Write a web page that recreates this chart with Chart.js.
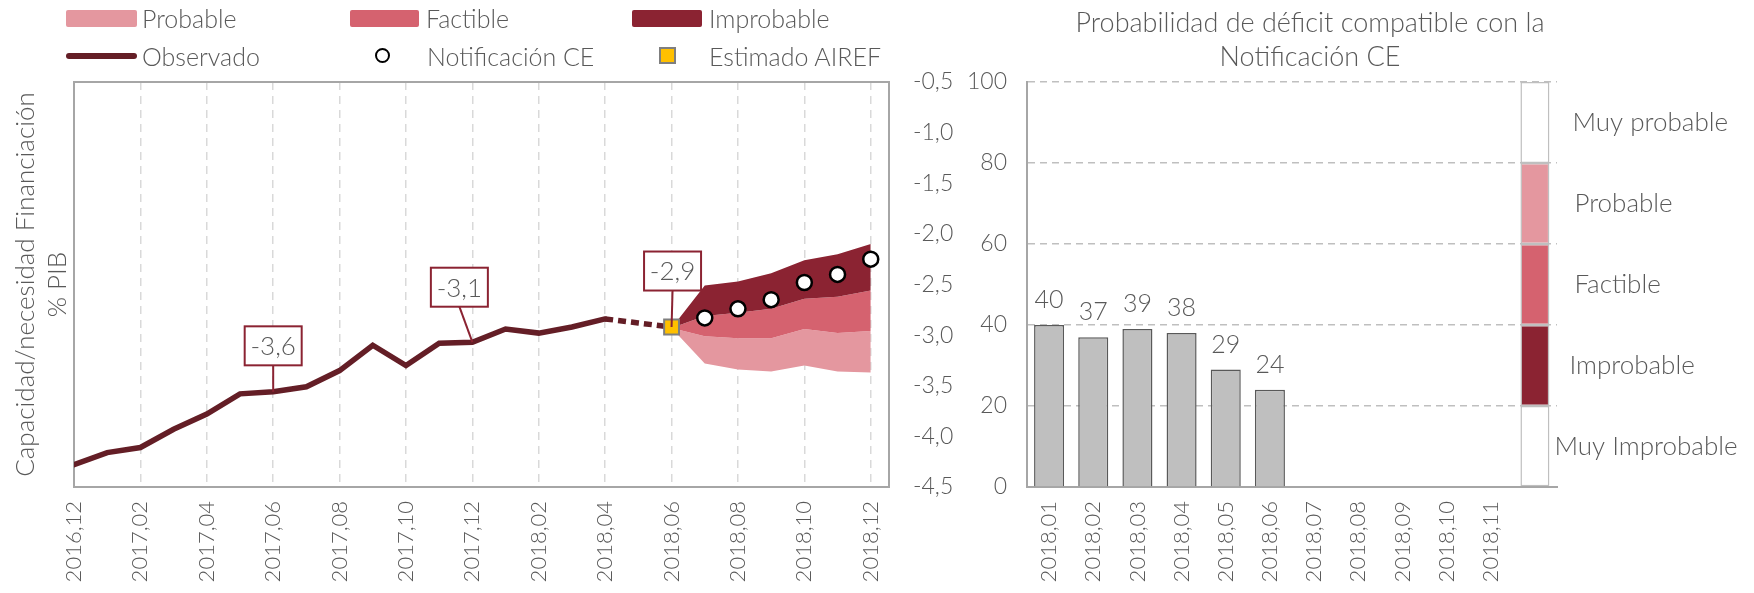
<!DOCTYPE html>
<html>
<head>
<meta charset="utf-8">
<script src="https://cdn.jsdelivr.net/npm/chart.js@4.4.1/dist/chart.umd.min.js"></script>
<style>
  body { margin: 0; background: #fff; width: 1754px; height: 593px; overflow: hidden; position: relative; font-family: Lato, sans-serif; font-weight: 300; color: #595959; }
  #leftChart { position: absolute; left: 0; top: 0; }
  #rightChart { position: absolute; left: 965px; top: 0; }
  .lg { position: absolute; font-size: 25px; line-height: 30px; white-space: nowrap; }
  .sw { position: absolute; }
</style>
</head>
<body>
<canvas id="leftChart" width="965" height="593"></canvas>
<canvas id="rightChart" width="789" height="593"></canvas>

<!-- legend -->
<div class="sw" style="left:66px;top:10px;width:71px;height:17px;background:#E4979F;border-radius:2px"></div>
<div class="lg" style="left:142px;top:3px">Probable</div>
<div class="sw" style="left:350px;top:10px;width:69px;height:17px;background:#D5626F;border-radius:2px"></div>
<div class="lg" style="left:426px;top:3px">Factible</div>
<div class="sw" style="left:632px;top:10px;width:70px;height:17px;background:#8B2332;border-radius:2px"></div>
<div class="lg" style="left:709px;top:3px">Improbable</div>
<div class="sw" style="left:66px;top:53px;width:71px;height:6px;background:#641E26;border-radius:3px"></div>
<div class="lg" style="left:142px;top:41px">Observado</div>
<div class="sw" style="left:375px;top:48px;width:11px;height:11px;border:2.5px solid #000;border-radius:50%;background:#fff"></div>
<div class="lg" style="left:427px;top:41px">Notificación CE</div>
<div class="sw" style="left:659px;top:47px;width:13px;height:13px;border:2px solid #7F7F7F;background:#FFC000"></div>
<div class="lg" style="left:709px;top:41px">Estimado AIREF</div>

<script>
// ---- data: left chart (month index 0 = 2016,12)
const months = ['2016,12', '2017,01', '2017,02', '2017,03', '2017,04', '2017,05', '2017,06',
  '2017,07', '2017,08', '2017,09', '2017,10', '2017,11', '2017,12', '2018,01', '2018,02',
  '2018,03', '2018,04', '2018,05', '2018,06', '2018,07', '2018,08', '2018,09', '2018,10',
  '2018,11', '2018,12'];
const observado = [-4.28, -4.16, -4.11, -3.93, -3.78, -3.58, -3.56, -3.51, -3.35, -3.10,
  -3.30, -3.08, -3.07, -2.94, -2.98, -2.92, -2.84];           // 2016,12 .. 2018,04
const enlace = [-2.84, -2.88, -2.92];                         // 2018,04 .. 2018,06 (dashed)
const estimadoAiref = [-2.92];                                // 2018,06
const notificacionCE = [-2.83, -2.74, -2.65, -2.48, -2.40, -2.25]; // 2018,07 .. 2018,12
// fan bands 2018,06 .. 2018,12
const improbableTop = [-2.93, -2.51, -2.47, -2.39, -2.26, -2.20, -2.10];
const factibleTop = [-2.93, -2.81, -2.78, -2.74, -2.64, -2.62, -2.56];
const probableTop = [-2.93, -3.01, -3.03, -3.03, -2.94, -2.98, -2.96];
const probableBottom = [-2.93, -3.28, -3.34, -3.36, -3.30, -3.36, -3.37];

// ---- data: right chart
const barMonths = ['2018,01', '2018,02', '2018,03', '2018,04', '2018,05', '2018,06',
  '2018,07', '2018,08', '2018,09', '2018,10', '2018,11', ''];
const probabilidad = [40, 37, 39, 38, 29, 24];
const gaugeBands = ['Muy Improbable', 'Improbable', 'Factible', 'Probable', 'Muy probable'];
const gaugeSize = [20, 20, 20, 20, 20];

const GRAY = '#595959';
const FONT = 'Lato, sans-serif';
const fmt = (v) => v.toFixed(1).replace('.', ',');
const pts = (start, arr) => arr.map((v, k) => ({ x: start + k, y: v }));

// frame + callout boxes on the left chart
const leftDeco = {
  id: 'leftDeco',
  beforeDatasetsDraw(chart) {
    const { ctx, chartArea: a } = chart;
    ctx.save();
    ctx.strokeStyle = '#A6A6A6';
    ctx.lineWidth = 2;
    ctx.strokeRect(a.left, a.top, a.right - a.left, a.bottom - a.top);
    ctx.restore();
  },
  afterDatasetsDraw(chart) {
    const { ctx, scales } = chart;
    const callouts = [
      { i: 6, v: observado[6], dx: 0, dy: -46 },
      { i: 12, v: observado[12], dx: -13, dy: -55 },
      { i: 18, v: estimadoAiref[0], dx: 1, dy: -56 },
    ];
    ctx.save();
    callouts.forEach((c) => {
      const px = scales.x.getPixelForValue(c.i);
      const py = scales.y.getPixelForValue(c.v);
      const bx = px + c.dx, by = py + c.dy;
      const w = 57, h = 39;
      ctx.strokeStyle = '#8B2332';
      ctx.lineWidth = 2;
      ctx.beginPath();
      ctx.moveTo(bx, by + h / 2);
      ctx.lineTo(px, py);
      ctx.stroke();
      ctx.fillStyle = '#fff';
      ctx.fillRect(bx - w / 2, by - h / 2, w, h);
      ctx.strokeRect(bx - w / 2, by - h / 2, w, h);
      ctx.fillStyle = GRAY;
      ctx.font = '300 26px ' + FONT;
      ctx.textAlign = 'center';
      ctx.textBaseline = 'middle';
      ctx.fillText(fmt(c.v), bx, by + 1);
    });
    ctx.restore();
  },
};

new Chart(document.getElementById('leftChart'), {
  type: 'line',
  data: {
    datasets: [
      {
        label: 'Notificación CE',
        data: pts(19, notificacionCE),
        showLine: false,
        pointRadius: 7.5,
        pointBackgroundColor: '#fff',
        pointBorderColor: '#000',
        pointBorderWidth: 2.5,
      },
      {
        label: 'Estimado AIREF',
        data: pts(18, estimadoAiref),
        showLine: false,
        pointStyle: 'rect',
        pointRadius: 10.5,
        pointBackgroundColor: '#FFC000',
        pointBorderColor: '#7F7F7F',
        pointBorderWidth: 2,
      },
      {
        label: 'Observado',
        data: pts(0, observado),
        borderColor: '#641E26',
        borderWidth: 5.5,
        pointRadius: 0,
        borderCapStyle: 'round',
      },
      {
        label: 'enlace',
        data: pts(16, enlace),
        borderColor: '#641E26',
        borderWidth: 5.5,
        borderDash: [8, 5],
        pointRadius: 0,
      },
      {
        label: 'Improbable',
        data: pts(18, improbableTop),
        borderWidth: 0,
        pointRadius: 0,
        fill: '+1',
        backgroundColor: '#8B2332',
      },
      {
        label: 'Factible',
        data: pts(18, factibleTop),
        borderWidth: 0,
        pointRadius: 0,
        fill: '+1',
        backgroundColor: '#D5626F',
      },
      {
        label: 'Probable',
        data: pts(18, probableTop),
        borderWidth: 0,
        pointRadius: 0,
        fill: '+1',
        backgroundColor: '#E4979F',
      },
      {
        label: 'fondo',
        data: pts(18, probableBottom),
        borderWidth: 0,
        pointRadius: 0,
        fill: false,
      },
    ],
  },
  options: {
    responsive: false,
    animation: false,
    layout: { padding: { top: 82, left: 0, right: 0, bottom: 0 } },
    plugins: { legend: { display: false }, tooltip: { enabled: false } },
    scales: {
      x: {
        type: 'linear',
        min: 0,
        max: 24.55,
        afterFit: (s) => { s.height = 106; },
        grid: { color: '#D9D9D9', lineWidth: 1.5, drawTicks: false },
        border: { display: false, dash: [8, 6] },
        ticks: {
          stepSize: 2,
          includeBounds: false,
          minRotation: 90,
          maxRotation: 90,
          padding: 14,
          color: GRAY,
          font: { family: FONT, size: 22, weight: 300 },
          callback: (v) => months[v] ?? '',
        },
      },
      y: {
        position: 'right',
        min: -4.5,
        max: -0.5,
        afterFit: (s) => { s.width = 76; },
        grid: { display: false, drawTicks: false },
        border: { display: false },
        ticks: {
          stepSize: 0.5,
          padding: 24,
          color: GRAY,
          font: { family: FONT, size: 23, weight: 300 },
          callback: (v) => fmt(v),
        },
      },
      yt: {
        position: 'left',
        afterFit: (s) => { s.width = 74; },
        grid: { display: false, drawTicks: false },
        border: { display: false },
        ticks: { display: false },
        title: {
          display: true,
          text: ['Capacidad/necesidad Financiación', '% PIB'],
          color: GRAY,
          font: { family: FONT, size: 26, weight: 300, lineHeight: 1.25 },
          padding: { top: 9, bottom: 0 },
        },
      },
    },
  },
  plugins: [leftDeco],
});

// title, bar values and gauge labels on the right chart
const rightDeco = {
  id: 'rightDeco',
  afterDraw(chart) {
    const { ctx, scales } = chart;
    ctx.save();
    ctx.fillStyle = GRAY;
    ctx.textBaseline = 'middle';
    ctx.font = '300 27px ' + FONT;
    ctx.textAlign = 'center';
    ctx.fillText('Probabilidad de déficit compatible con la', 345, 23);
    ctx.fillText('Notificación CE', 345, 57);

    ctx.font = '300 25px ' + FONT;
    chart.getDatasetMeta(0).data.forEach((bar, k) => {
      if (probabilidad[k] == null) return;
      ctx.fillText(String(probabilidad[k]), bar.x, bar.y - 25);
    });

    const gauge = chart.getDatasetMeta(1).data[11];
    const gx = gauge.x + gauge.width / 2;
    const dxs = [5, 20, 25, 25, 23];
    ctx.textAlign = 'left';
    ctx.font = '300 26px ' + FONT;
    let acc = 0;
    gaugeBands.forEach((name, k) => {
      const mid = acc + gaugeSize[k] / 2;
      acc += gaugeSize[k];
      ctx.fillText(name, gx + dxs[k], scales.y.getPixelForValue(mid));
    });
    ctx.restore();
  },
};

const gaugeColors = ['#FFFFFF', '#8B2332', '#D5626F', '#E4979F', '#FFFFFF'];
const gaugeSets = gaugeBands.map((name, k) => ({
  label: name,
  data: barMonths.map((m, i) => (i === barMonths.length - 1 ? gaugeSize[k] : null)),
  backgroundColor: gaugeColors[k],
  borderColor: '#BFBFBF',
  borderWidth: 1.5,
  borderSkipped: false,
  categoryPercentage: 0.8,
  barPercentage: 0.82,
}));

new Chart(document.getElementById('rightChart'), {
  type: 'bar',
  data: {
    labels: barMonths,
    datasets: [
      {
        label: 'Probabilidad',
        data: barMonths.map((m, i) => probabilidad[i] ?? null),
        backgroundColor: '#BFBFBF',
        borderColor: GRAY,
        borderWidth: 1.5,
        categoryPercentage: 0.8,
        barPercentage: 0.85,
      },
      ...gaugeSets,
    ],
  },
  options: {
    responsive: false,
    animation: false,
    layout: { padding: { top: 82, left: 0, right: 197, bottom: 0 } },
    plugins: { legend: { display: false }, tooltip: { enabled: false } },
    scales: {
      x: {
        stacked: true,
        afterFit: (s) => { s.height = 106; },
        grid: { display: false, drawTicks: false },
        border: { display: true, color: '#A6A6A6', width: 2 },
        ticks: {
          autoSkip: false,
          minRotation: 90,
          maxRotation: 90,
          padding: 14,
          color: GRAY,
          font: { family: FONT, size: 22, weight: 300 },
        },
      },
      y: {
        stacked: true,
        min: 0,
        max: 100,
        afterFit: (s) => { s.width = 62; },
        grid: { color: '#BFBFBF', lineWidth: 1.5, drawTicks: false },
        border: { display: true, color: '#A6A6A6', width: 2, dash: [7, 5] },
        ticks: {
          stepSize: 20,
          padding: 20,
          color: GRAY,
          font: { family: FONT, size: 23, weight: 300 },
        },
      },
    },
  },
  plugins: [rightDeco],
});
</script>
</body>
</html>
